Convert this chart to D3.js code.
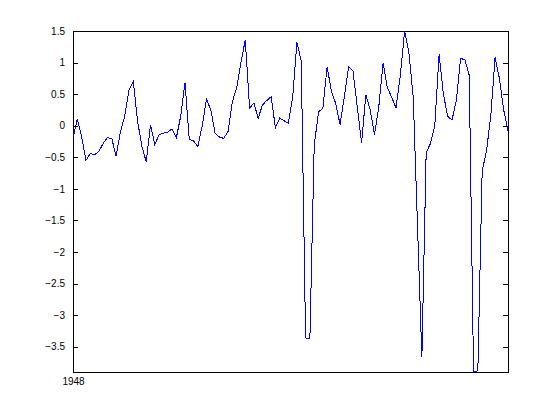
<!DOCTYPE html>
<html>
<head>
<meta charset="utf-8">
<script src="https://cdn.jsdelivr.net/npm/d3@7.9.0/dist/d3.min.js"></script>
<style>
  body { margin: 0; background: #fff; }
  text { font-family: "Liberation Sans", Arial, sans-serif; font-size: 10px; fill: #000; }
</style>
</head>
<body>
<svg id="chart" width="560" height="419"></svg>
<script>
// quarterly values starting 1948
const startYear = 1948;
const values = [
  -0.20, 0.11, -0.17, -0.55, -0.44, -0.46, -0.41, -0.28, -0.19, -0.20,
  -0.48, -0.10, 0.15, 0.57, 0.70, 0.07, -0.33, -0.57, 0.01, -0.30,
  -0.14, -0.12, -0.10, -0.05, -0.19, 0.15, 0.68, -0.22, -0.24, -0.33,
  0.00, 0.42, 0.25, -0.12, -0.18, -0.20, -0.09, 0.38, 0.60, 1.00,
  1.36, 0.28, 0.36, 0.12, 0.33, 0.40, 0.46, -0.03, 0.12, 0.08,
  0.04, 0.45, 1.32, 1.02, -3.36, -3.37, -0.32, 0.22, 0.27, 0.93,
  0.55, 0.35, 0.02, 0.46, 0.93, 0.87, 0.30, -0.27, 0.49, 0.25,
  -0.14, 0.30, 0.99, 0.60, 0.45, 0.28, 0.80, 1.50, 1.15, 0.45,
  -1.60, -3.67, -0.43, -0.28, 0.00, 1.13, 0.50, 0.15, 0.09, 0.40,
  1.07, 1.04, 0.80, -3.90, -3.88, -0.72, -0.40, 0.15, 1.08, 0.75,
  0.25, -0.08
];
const yTicks = [-3.5, -3, -2.5, -2, -1.5, -1, -0.5, 0, 0.5, 1, 1.5];
const xTickLabels = ["1948"];

const margin = { top: 31, right: 52, bottom: 47, left: 73 };
const width = 560 - margin.left - margin.right;
const height = 419 - margin.top - margin.bottom;

const svg = d3.select("#chart");
const g = svg.append("g").attr("transform", `translate(${margin.left},${margin.top})`);

const x = d3.scaleLinear().domain([0, values.length - 1]).range([0, width]);
const y = d3.scaleLinear().domain(d3.extent(values)).range([height, 0]);

// y axis left, ticks inside
g.append("g")
  .call(d3.axisLeft(y).tickValues(yTicks).tickSize(-5).tickPadding(8).tickFormat(d3.format("~g")))
  .call(a => {
    a.select(".domain").remove();
    a.selectAll("line").attr("stroke", "#000").attr("shape-rendering", "crispEdges");
  });

// right side ticks
g.append("g").attr("transform", `translate(${width},0)`)
  .call(d3.axisRight(y).tickValues(yTicks).tickSize(-5).tickFormat(""))
  .call(a => {
    a.select(".domain").remove();
    a.selectAll("line").attr("stroke", "#000").attr("shape-rendering", "crispEdges");
  });

// x axis: only the first year is labelled
g.append("g").attr("transform", `translate(0,${height})`)
  .call(d3.axisBottom(x).tickValues([0]).tickSize(-5).tickPadding(6)
    .tickFormat((d, i) => xTickLabels[i]))
  .call(a => {
    a.select(".domain").remove();
    a.selectAll("line").attr("stroke", "#000");
  });

// box
g.append("rect").attr("width", width).attr("height", height)
  .attr("fill", "none").attr("stroke", "#000").attr("shape-rendering", "crispEdges");

const line = d3.line().x((d, i) => x(i)).y(d => y(d));
g.append("path").datum(values)
  .attr("fill", "none").attr("stroke", "#0000ff").attr("stroke-width", 1)
  .attr("shape-rendering", "crispEdges")
  .attr("d", line);
</script>
</body>
</html>
